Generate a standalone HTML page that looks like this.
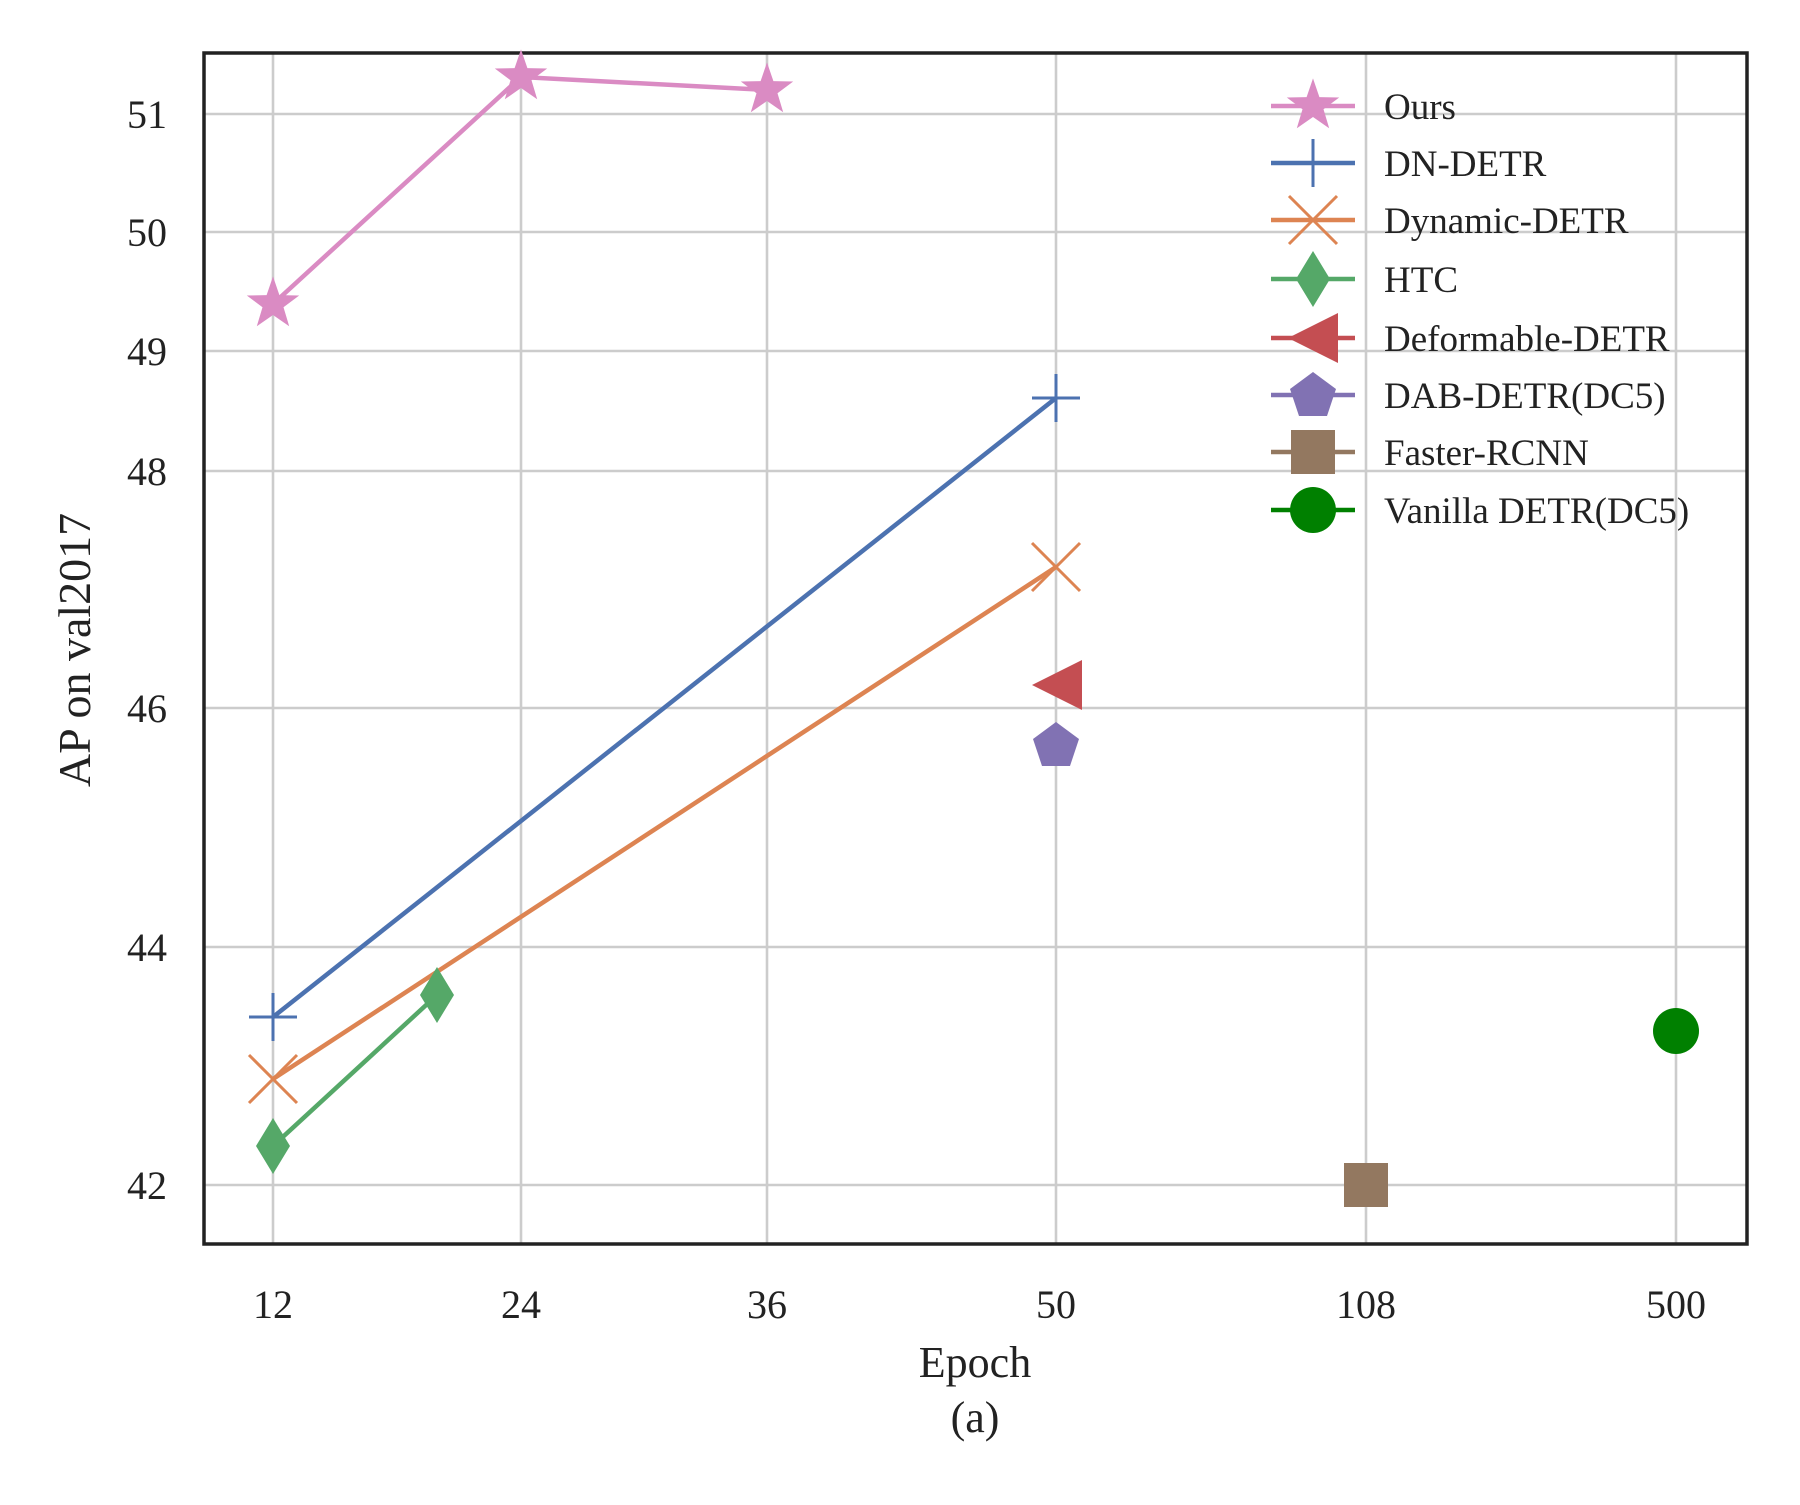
<!DOCTYPE html>
<html><head><meta charset="utf-8"><style>body{margin:0;background:#fff}</style></head><body>
<svg width="1800" height="1500" xmlns="http://www.w3.org/2000/svg" font-family="Liberation Serif, serif" fill="#222">
<defs>
<polygon id="star" points="0,-27.6 6.4,-8.9 26.2,-8.5 10.5,3.3 16.2,22.3 0,11 -16.2,22.3 -10.5,3.3 -26.2,-8.5 -6.4,-8.9"/>
</defs>
<g stroke="#cccccc" stroke-width="2.6">
<line x1="273" y1="53" x2="273" y2="1244"/><line x1="521" y1="53" x2="521" y2="1244"/><line x1="767" y1="53" x2="767" y2="1244"/><line x1="1056" y1="53" x2="1056" y2="1244"/><line x1="1366" y1="53" x2="1366" y2="1244"/><line x1="1676" y1="53" x2="1676" y2="1244"/>
<line x1="204" y1="114" x2="1747" y2="114"/><line x1="204" y1="232" x2="1747" y2="232"/><line x1="204" y1="351" x2="1747" y2="351"/><line x1="204" y1="471" x2="1747" y2="471"/><line x1="204" y1="708" x2="1747" y2="708"/><line x1="204" y1="947" x2="1747" y2="947"/><line x1="204" y1="1185" x2="1747" y2="1185"/>
</g>
<rect x="204" y="53" width="1543" height="1191" fill="none" stroke="#222" stroke-width="3.5"/>
<g font-size="40" text-anchor="end">
<text x="167" y="128">51</text><text x="167" y="246">50</text><text x="167" y="365">49</text><text x="167" y="485">48</text><text x="167" y="722">46</text><text x="167" y="961">44</text><text x="167" y="1199">42</text>
</g>
<g font-size="40" text-anchor="middle">
<text x="273" y="1318">12</text><text x="521" y="1318">24</text><text x="767" y="1318">36</text><text x="1056" y="1318">50</text><text x="1366" y="1318">108</text><text x="1676" y="1318">500</text>
<text x="975" y="1377" font-size="44">Epoch</text><text x="975" y="1432" font-size="44">(a)</text>
<text transform="translate(90,650) rotate(-90)" font-size="46">AP on val2017</text>
</g>
<polyline points="273,304 521,77 767,90" fill="none" stroke="#da8bc3" stroke-width="4.5"/>
<g fill="#da8bc3"><use href="#star" x="273" y="304"/><use href="#star" x="521" y="77"/><use href="#star" x="767" y="90"/></g>
<line x1="273" y1="1017" x2="1056" y2="398" stroke="#4c72b0" stroke-width="4.5"/>
<g stroke="#4c72b0" stroke-width="3"><path d="M249,1017h48M273,993v48M1032,398h48M1056,374v48"/></g>
<line x1="273" y1="1079" x2="1056" y2="567" stroke="#dd8452" stroke-width="4.5"/>
<g stroke="#dd8452" stroke-width="3"><path d="M249,1055l48,48M297,1055l-48,48M1032,543l48,48M1080,543l-48,48"/></g>
<line x1="273" y1="1146" x2="437" y2="995" stroke="#55a868" stroke-width="4.5"/>
<g fill="#55a868"><polygon points="273,1118 290,1146 273,1174 256,1146"/><polygon points="437,967 454,995 437,1023 420,995"/></g>
<polygon points="1032,685 1082,660 1082,710" fill="#c44e52"/>
<polygon points="1056,722 1079,739 1070,766 1042,766 1033,739" fill="#8172b3"/>
<rect x="1344" y="1163" width="44" height="44" fill="#937860"/>
<circle cx="1676" cy="1031" r="23" fill="#008000"/>
<g stroke-width="4.5">
<line x1="1271" y1="106" x2="1355" y2="106" stroke="#da8bc3"/><use href="#star" x="1313" y="106" fill="#da8bc3" stroke="none"/>
<line x1="1271" y1="163" x2="1355" y2="163" stroke="#4c72b0"/><path d="M1289,163h48M1313,139v48" stroke="#4c72b0" stroke-width="3"/>
<line x1="1271" y1="220" x2="1355" y2="220" stroke="#dd8452"/><path d="M1289,196l48,48M1337,196l-48,48" stroke="#dd8452" stroke-width="3"/>
<line x1="1271" y1="279" x2="1355" y2="279" stroke="#55a868"/><polygon points="1313,251 1330,279 1313,307 1296,279" fill="#55a868" stroke="none"/>
<line x1="1271" y1="338" x2="1355" y2="338" stroke="#c44e52"/><polygon points="1288,338 1338,313 1338,363" fill="#c44e52" stroke="none"/>
<line x1="1271" y1="395" x2="1355" y2="395" stroke="#8172b3"/><polygon points="1313,372 1336,389 1327,416 1299,416 1290,389" fill="#8172b3" stroke="none"/>
<line x1="1271" y1="452" x2="1355" y2="452" stroke="#937860"/><rect x="1291" y="430" width="44" height="44" fill="#937860" stroke="none"/>
<line x1="1271" y1="510" x2="1355" y2="510" stroke="#008000"/><circle cx="1313" cy="510" r="23" fill="#008000" stroke="none"/>
</g>
<g font-size="37">
<text x="1384" y="119">Ours</text><text x="1384" y="176">DN-DETR</text><text x="1384" y="233">Dynamic-DETR</text><text x="1384" y="292">HTC</text><text x="1384" y="351">Deformable-DETR</text><text x="1384" y="408">DAB-DETR(DC5)</text><text x="1384" y="465">Faster-RCNN</text><text x="1384" y="523">Vanilla DETR(DC5)</text>
</g>
</svg>
</body></html>
